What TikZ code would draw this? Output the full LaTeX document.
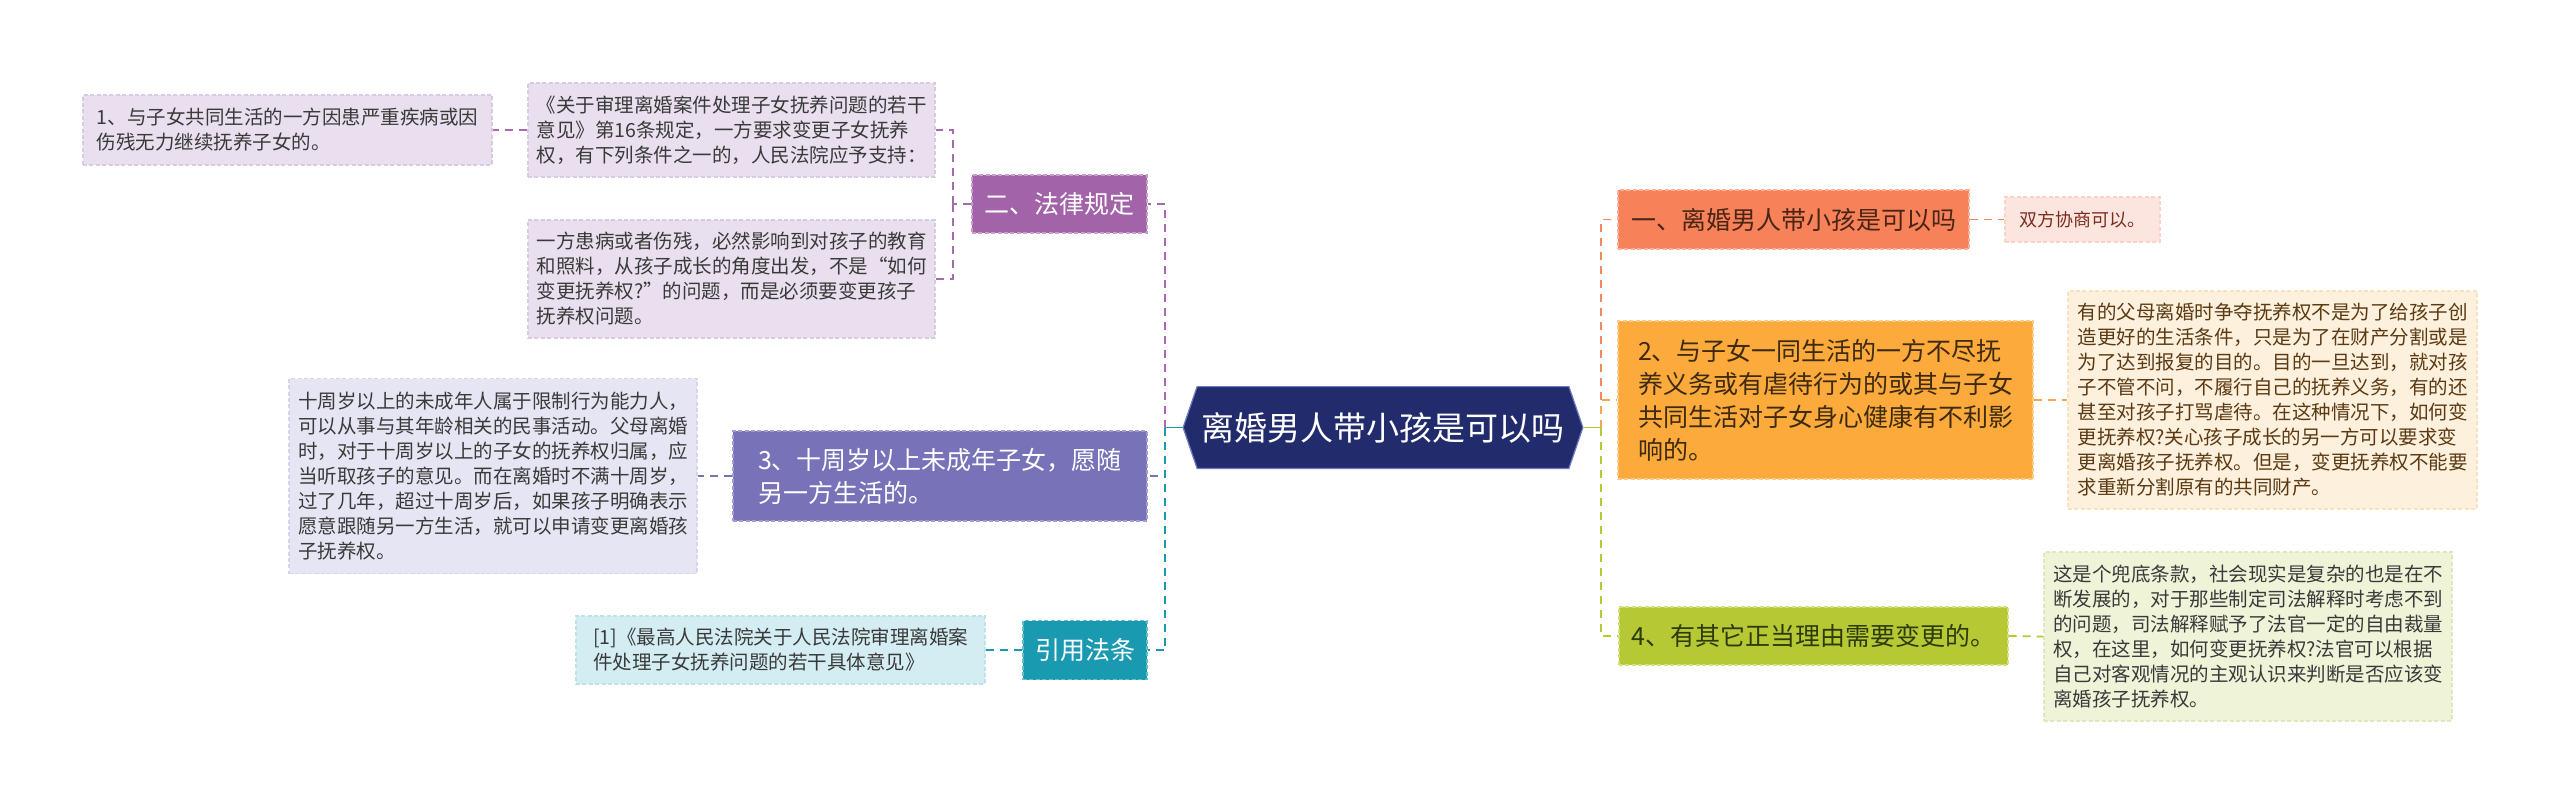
\documentclass[tikz,border=0pt]{standalone}
\usepackage{fontspec}
\setmainfont{Noto Sans CJK SC}
\usetikzlibrary{backgrounds}
\definecolor{navy}{HTML}{222B6C}
\definecolor{navyb}{HTML}{6F7BC0}
\definecolor{purpleL}{HTML}{A263A8}
\definecolor{purpleLd}{HTML}{C99DCD}
\definecolor{pA}{HTML}{E9DFEE}
\definecolor{pAd}{HTML}{D8CBE0}
\definecolor{violet3}{HTML}{7873B9}
\definecolor{violet3d}{HTML}{A19DD3}
\definecolor{lav}{HTML}{E6E5F3}
\definecolor{lavd}{HTML}{D6D4EA}
\definecolor{teal4}{HTML}{1A9AB0}
\definecolor{teal4d}{HTML}{5FC0D0}
\definecolor{cyanL}{HTML}{D3EDF3}
\definecolor{cyanLd}{HTML}{BCE2EB}
\definecolor{or1}{HTML}{F7825A}
\definecolor{or1d}{HTML}{FBB096}
\definecolor{or1c}{HTML}{FCE5DE}
\definecolor{or1cd}{HTML}{F8D3C6}
\definecolor{or2}{HTML}{FBAA3B}
\definecolor{or2d}{HTML}{FDCB85}
\definecolor{or2c}{HTML}{FDF0DC}
\definecolor{or2cd}{HTML}{F8E2C2}
\definecolor{gr3}{HTML}{B6C934}
\definecolor{gr3d}{HTML}{D3E07E}
\definecolor{gr3c}{HTML}{EFF3D8}
\definecolor{gr3cd}{HTML}{E0E6BE}
\definecolor{txt}{HTML}{3A3A3A}
\definecolor{brown1}{HTML}{4A2415}
\definecolor{brown2}{HTML}{7A2E1E}
\definecolor{brown3}{HTML}{3D2A10}
\definecolor{brown4}{HTML}{5B3A14}
\definecolor{olive}{HTML}{2F3A0C}
\definecolor{lnpurple}{HTML}{A66BAE}
\definecolor{lnviolet}{HTML}{7873B9}
\definecolor{lnteal}{HTML}{1A9AB0}
\definecolor{lnor1}{HTML}{F08A5E}
\definecolor{lnor2}{HTML}{F3A84E}
\definecolor{lngr}{HTML}{B6C934}
\tikzset{
  box/.style={rectangle, inner sep=0pt, align=left, line width=0.6pt, dash pattern=on 2pt off 1.2pt},
  small/.style={font=\fontsize{9.75pt}{12.5pt}\selectfont},
  mid/.style={font=\fontsize{12.5pt}{16.5pt}\selectfont},
  conn/.style={line width=0.9pt, dash pattern=on 4pt off 3pt},
  solidconn/.style={line width=0.9pt},
}
\begin{document}
\begin{tikzpicture}[x=0.5pt,y=-0.5pt]
\begin{scope}[on background layer]
\path[fill=white] (0,0) rectangle (2560,804);
\end{scope}
\useasboundingbox (0,0) rectangle (2560,804);

% root
\node[font=\fontsize{16.5pt}{20pt}\selectfont, text=white, minimum width=185.5pt, minimum height=40.5pt, inner sep=0pt] (root) at (1383,427.5) {离婚男人带小孩是可以吗};
\begin{scope}[on background layer]
\filldraw[fill=navy, draw=navyb, line width=0.6pt] ([xshift=-7pt]root.west) -- (root.north west) -- (root.north east) -- ([xshift=7pt]root.east) -- (root.south east) -- (root.south west) -- cycle;
\end{scope}
\coordinate (rootL) at ([xshift=-7pt]root.west);
\coordinate (rootR) at ([xshift=7pt]root.east);

% left side
\node[box, mid, fill=purpleL, draw=purpleLd, text=white, minimum width=87.5pt, minimum height=29pt] (L2) at (1059.5,204) {二、法律规定};
\node[box, small, fill=pA, draw=pAd, text=txt, minimum width=204.5pt, minimum height=35pt] (A1) at (287.5,130) {1、与子女共同生活的一方因患严重疾病或因\\伤残无力继续抚养子女的。};
\node[box, small, fill=pA, draw=pAd, text=txt, minimum width=203.5pt, minimum height=47pt] (A2) at (731.5,130) {《关于审理离婚案件处理子女抚养问题的若干\\意见》第16条规定，一方要求变更子女抚养\\权，有下列条件之一的，人民法院应予支持：};
\node[box, small, fill=pA, draw=pAd, text=txt, minimum width=203.5pt, minimum height=59pt] (A3) at (731.5,279) {一方患病或者伤残，必然影响到对孩子的教育\\和照料，从孩子成长的角度出发，不是“如何\\变更抚养权?”的问题，而是必须要变更孩子\\抚养权问题。};

\node[box, mid, fill=violet3, draw=violet3d, text=white, minimum width=207pt, minimum height=45pt] (L3) at (940,476) {3、十周岁以上未成年子女，愿随\\另一方生活的。};
\node[box, small, fill=lav, draw=lavd, text=txt, minimum width=204pt, minimum height=97.5pt] (L3c) at (493,476) {十周岁以上的未成年人属于限制行为能力人，\\可以从事与其年龄相关的民事活动。父母离婚\\时，对于十周岁以上的子女的抚养权归属，应\\当听取孩子的意见。而在离婚时不满十周岁，\\过了几年，超过十周岁后，如果孩子明确表示\\愿意跟随另一方生活，就可以申请变更离婚孩\\子抚养权。};

\node[box, mid, fill=teal4, draw=teal4d, text=white, minimum width=62pt, minimum height=29.5pt] (L4) at (1085,650) {引用法条};
\node[box, small, fill=cyanL, draw=cyanLd, text=txt, minimum width=204.5pt, minimum height=34pt] (L4c) at (780.5,650) {[1]《最高人民法院关于人民法院审理离婚案\\件处理子女抚养问题的若干具体意见》};

% right side
\node[box, mid, fill=or1, draw=or1d, text=brown1, minimum width=175.5pt, minimum height=29.5pt] (R1) at (1793.5,219.5) {一、离婚男人带小孩是可以吗};
\node[box, font=\fontsize{9pt}{11pt}\selectfont, fill=or1c, draw=or1cd, text=brown2, minimum width=77.5pt, minimum height=22.5pt] (R1c) at (2082.5,219.5) {双方协商可以。};

\node[box, mid, fill=or2, draw=or2d, text=brown3, minimum width=207.5pt, minimum height=79pt] (R2) at (1825.5,400) {2、与子女一同生活的一方不尽抚\\养义务或有虐待行为的或其与子女\\共同生活对子女身心健康有不利影\\响的。};
\node[box, small, fill=or2c, draw=or2cd, text=brown4, minimum width=204.5pt, minimum height=109pt] (R2c) at (2272.5,400) {有的父母离婚时争夺抚养权不是为了给孩子创\\造更好的生活条件，只是为了在财产分割或是\\为了达到报复的目的。目的一旦达到，就对孩\\子不管不问，不履行自己的抚养义务，有的还\\甚至对孩子打骂虐待。在这种情况下，如何变\\更抚养权?关心孩子成长的另一方可以要求变\\更离婚孩子抚养权。但是，变更抚养权不能要\\求重新分割原有的共同财产。};

\node[box, mid, fill=gr3, draw=gr3d, text=olive, minimum width=194.5pt, minimum height=29pt] (R3) at (1813.5,636) {4、有其它正当理由需要变更的。};
\node[box, small, fill=gr3c, draw=gr3cd, text=txt, minimum width=204pt, minimum height=84.5pt] (R3c) at (2248,636.5) {这是个兜底条款，社会现实是复杂的也是在不\\断发展的，对于那些制定司法解释时考虑不到\\的问题，司法解释赋予了法官一定的自由裁量\\权，在这里，如何变更抚养权?法官可以根据\\自己对客观情况的主观认识来判断是否应该变\\离婚孩子抚养权。};

% connectors
\coordinate (lj) at (1165,427.5);
\coordinate (rj) at (1601,427.5);
\coordinate (bj) at (953,204);

\draw[solidconn, lnteal] (rootL) -- (lj);
\draw[conn, lnpurple] (lj) |- (L2.east);
\draw[conn, lnviolet] (lj) |- (L3.east);
\draw[conn, lnteal] (lj) |- (L4.east);

\draw[conn, lnpurple] (L2.west) -- (bj);
\draw[conn, lnpurple] (bj) |- (A2.east);
\draw[conn, lnpurple] (bj) |- (A3.east);
\draw[conn, lnpurple] (A2.west) -- (A1.east);
\draw[conn, lnviolet] (L3.west) -- (L3c.east);
\draw[conn, lnteal] (L4.west) -- (L4c.east);

\draw[solidconn, lngr] (rootR) -- (rj);
\draw[conn, lnor1] (rj) |- (R1.west);
\draw[conn, lnor2] (rj) |- (R2.west);
\draw[conn, lngr] (rj) |- (R3.west);
\draw[conn, lnor1] (R1.east) -- (R1c.west);
\draw[conn, lnor2] (R2.east) -- (R2c.west);
\draw[conn, lngr] (R3.east) -- (R3c.west);
\end{tikzpicture}
\end{document}
